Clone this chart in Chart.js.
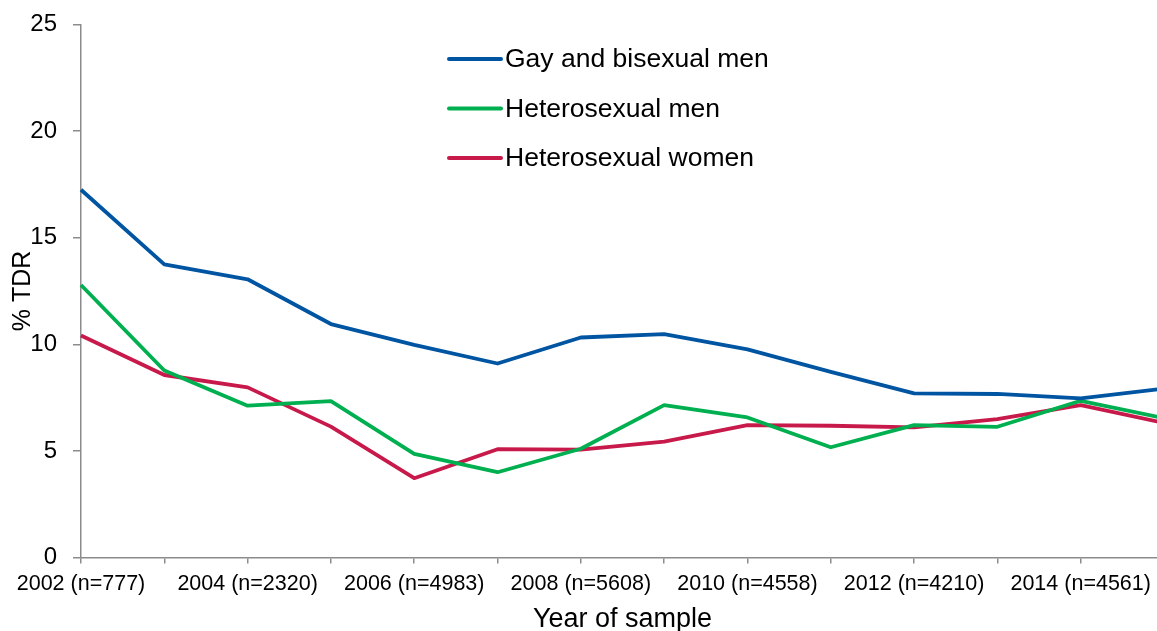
<!DOCTYPE html>
<html>
<head>
<meta charset="utf-8">
<script src="https://cdn.jsdelivr.net/npm/chart.js@4.4.1/dist/chart.umd.min.js"></script>
<style>
html,body{margin:0;padding:0;background:#fff;overflow:hidden;width:1157px;height:631px}
#wrap{position:absolute;left:0;top:0;width:1164px;height:631px}
</style>
</head>
<body>
<div id="wrap"><canvas id="c" width="1164" height="631"></canvas></div>
<script>
// ---- data ----
const years = ['2002','2003','2004','2005','2006','2007','2008','2009','2010','2011','2012','2013','2014','2015'];
const tickLabels = ['2002 (n=777)','','2004 (n=2320)','','2006 (n=4983)','','2008 (n=5608)','','2010 (n=4558)','','2012 (n=4210)','','2014 (n=4561)',''];
const seriesNames = ['Gay and bisexual men','Heterosexual men','Heterosexual women'];
const gayBisexualMen   = [17.25, 13.75, 13.05, 10.95, 9.97, 9.10, 10.32, 10.48, 9.76, 8.71, 7.70, 7.67, 7.46, 7.92];
const heterosexualMen  = [12.78, 8.77, 7.12, 7.33, 4.86, 4.00, 5.10, 7.15, 6.57, 5.17, 6.21, 6.13, 7.35, 6.54];
const heterosexualWomen= [10.41, 8.56, 7.98, 6.14, 3.72, 5.08, 5.06, 5.43, 6.21, 6.18, 6.10, 6.49, 7.15, 6.31];
const yMin = 0, yMax = 25, yStep = 5;
const seriesColors = ['#0055a2', '#00b050', '#c8194b'];

const FONT = '"Liberation Sans", Arial, Helvetica, sans-serif';
const AXIS_GRAY = '#8c8c8c';

const insideLegend = {
  id: 'insideLegend',
  afterDatasetsDraw(chart) {
    const ctx = chart.ctx;
    ctx.save();
    ctx.font = '26.5px ' + FONT;
    ctx.textBaseline = 'middle';
    ctx.textAlign = 'left';
    ctx.fillStyle = '#000';
    chart.data.datasets.forEach((ds, i) => {
      const y = 59 + i * 49.5;
      ctx.strokeStyle = ds.borderColor;
      ctx.lineWidth = 4;
      ctx.lineCap = 'round';
      ctx.beginPath();
      ctx.moveTo(449, y);
      ctx.lineTo(501, y);
      ctx.stroke();
      ctx.fillText(ds.label, 505, y + 1);
    });
    ctx.restore();
  }
};

const seriesData = [gayBisexualMen, heterosexualMen, heterosexualWomen];

new Chart(document.getElementById('c'), {
  type: 'line',
  data: {
    labels: years,
    datasets: seriesData.map((d, i) => ({
      label: seriesNames[i],
      data: d,
      borderColor: seriesColors[i],
      backgroundColor: seriesColors[i],
      borderWidth: 3.8,
      pointRadius: 0,
      tension: 0,
      borderJoinStyle: 'round',
      fill: false
    }))
  },
  options: {
    responsive: false,
    animation: false,
    devicePixelRatio: 1,
    layout: { padding: { top: 24.5, left: 0, right: 0, bottom: 0 } },
    plugins: { legend: { display: false }, tooltip: { enabled: false } },
    scales: {
      x: {
        type: 'category',
        offset: false,
        grid: { display: true, drawOnChartArea: false, drawTicks: true, tickLength: 6, color: AXIS_GRAY, lineWidth: 1.5 },
        border: { display: true, color: AXIS_GRAY, width: 1.5 },
        ticks: {
          autoSkip: false, maxRotation: 0, minRotation: 0, padding: 8,
          color: '#000',
          font: { family: FONT, size: 21.5 },
          callback: (v, i) => tickLabels[i]
        },
        title: { display: true, text: 'Year of sample', color: '#000', font: { family: FONT, size: 27, lineHeight: 0.85 }, padding: { top: 0, bottom: 0 } },
        afterFit: (s) => { s.height = 73.5; s.paddingLeft = 0; s.paddingRight = 0; }
      },
      y: {
        min: yMin, max: yMax,
        grid: { display: true, drawOnChartArea: false, drawTicks: true, tickLength: 8, color: AXIS_GRAY, lineWidth: 1.5 },
        border: { display: true, color: AXIS_GRAY, width: 1.5 },
        ticks: { stepSize: yStep, padding: 16, color: '#000', font: { family: FONT, size: 24 } },
        title: { display: true, text: '% TDR', color: '#000', font: { family: FONT, size: 25, lineHeight: 1.2 }, padding: { top: 8, bottom: 0 } },
        afterFit: (s) => { s.width = 81; s.paddingTop = 0; s.paddingBottom = 0; }
      }
    }
  },
  plugins: [insideLegend]
});
</script>
</body>
</html>
